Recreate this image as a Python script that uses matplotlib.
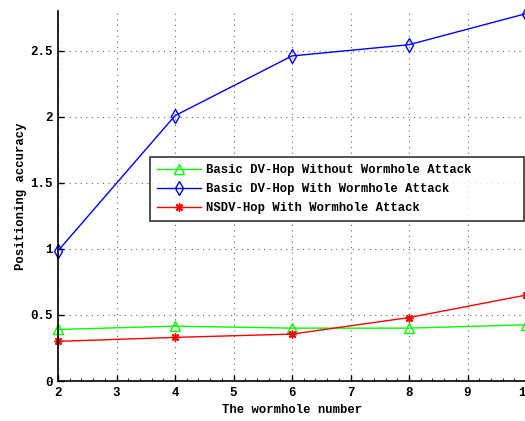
import matplotlib
matplotlib.use("Agg")
import matplotlib.pyplot as plt
from matplotlib.ticker import MultipleLocator

wormholes = [2, 4, 6, 8, 10]
basic_no_attack = [0.39, 0.415, 0.40, 0.40, 0.425]
basic_attack = [0.985, 2.008, 2.46, 2.545, 2.78]
nsdv_attack = [0.30, 0.33, 0.355, 0.48, 0.65]
labels = ["Basic DV-Hop Without Wormhole Attack",
          "Basic DV-Hop With Wormhole Attack",
          "NSDV-Hop With Wormhole Attack"]

plt.rcParams['font.family'] = ['Liberation Mono', 'DejaVu Sans Mono']
plt.rcParams['font.weight'] = 'bold'

fig = plt.figure(figsize=(5.25, 4.21), dpi=100)
ax = fig.add_axes([58/525, 1-381/421, 468/525, 370/421])

ax.plot(wormholes, basic_no_attack, color='#00ff00', marker='^', mfc='none',
        markersize=7, mew=1, lw=1, label=labels[0], clip_on=False)
ax.plot(wormholes, basic_attack, color='#0000ff', marker='d', mfc='none',
        markersize=7.5, mew=1, lw=1, label=labels[1], clip_on=False)
ax.plot(wormholes, nsdv_attack, color='#ff0000', marker=(8, 2, 0), mfc='none',
        markersize=6, mew=1, lw=1, label=labels[2], clip_on=False)

ax.set_xlim(2, 10)
ax.set_ylim(0, 2.8)
ax.set_xticks(range(2, 11))
ax.set_yticks([0, 0.5, 1, 1.5, 2, 2.5])
ax.set_yticklabels(['0', '0.5', '1', '1.5', '2', '2.5'])
ax.xaxis.set_minor_locator(MultipleLocator(0.2))
ax.grid(True, linestyle=(0, (1, 4)), color='#666666', linewidth=0.8)
ax.tick_params(direction='in', labelsize=9, length=4, width=1, pad=4)
ax.tick_params(which='minor', direction='in', length=2)
for lab in ax.get_xticklabels() + ax.get_yticklabels():
    lab.set_fontweight('bold')
ax.spines['top'].set_visible(False)
ax.spines['right'].set_visible(False)
for s in ['left', 'bottom']:
    ax.spines[s].set_linewidth(1.2)

ax.set_xlabel('The wormhole number', fontsize=8.8, fontweight='bold', labelpad=4)
ax.set_ylabel('Positioning accuracy', fontsize=8.8, fontweight='bold', labelpad=2)

x0 = (150 - 58) / 468
x1 = (524 - 58) / 468
ytop = (381 - 157) / 370
ybot = (381 - 220) / 370
leg = ax.legend(loc='upper left', bbox_to_anchor=(x0, ybot, x1 - x0, ytop - ybot),
                mode='expand',
                fontsize=8.8, frameon=True, fancybox=False, edgecolor='black',
                borderpad=0.6, labelspacing=0.56, handlelength=3.6, handletextpad=0.4,
                borderaxespad=0)
leg.get_frame().set_linewidth(1.2)
for t in leg.get_texts():
    t.set_fontweight('bold')

fig.savefig('out.png', dpi=100)
